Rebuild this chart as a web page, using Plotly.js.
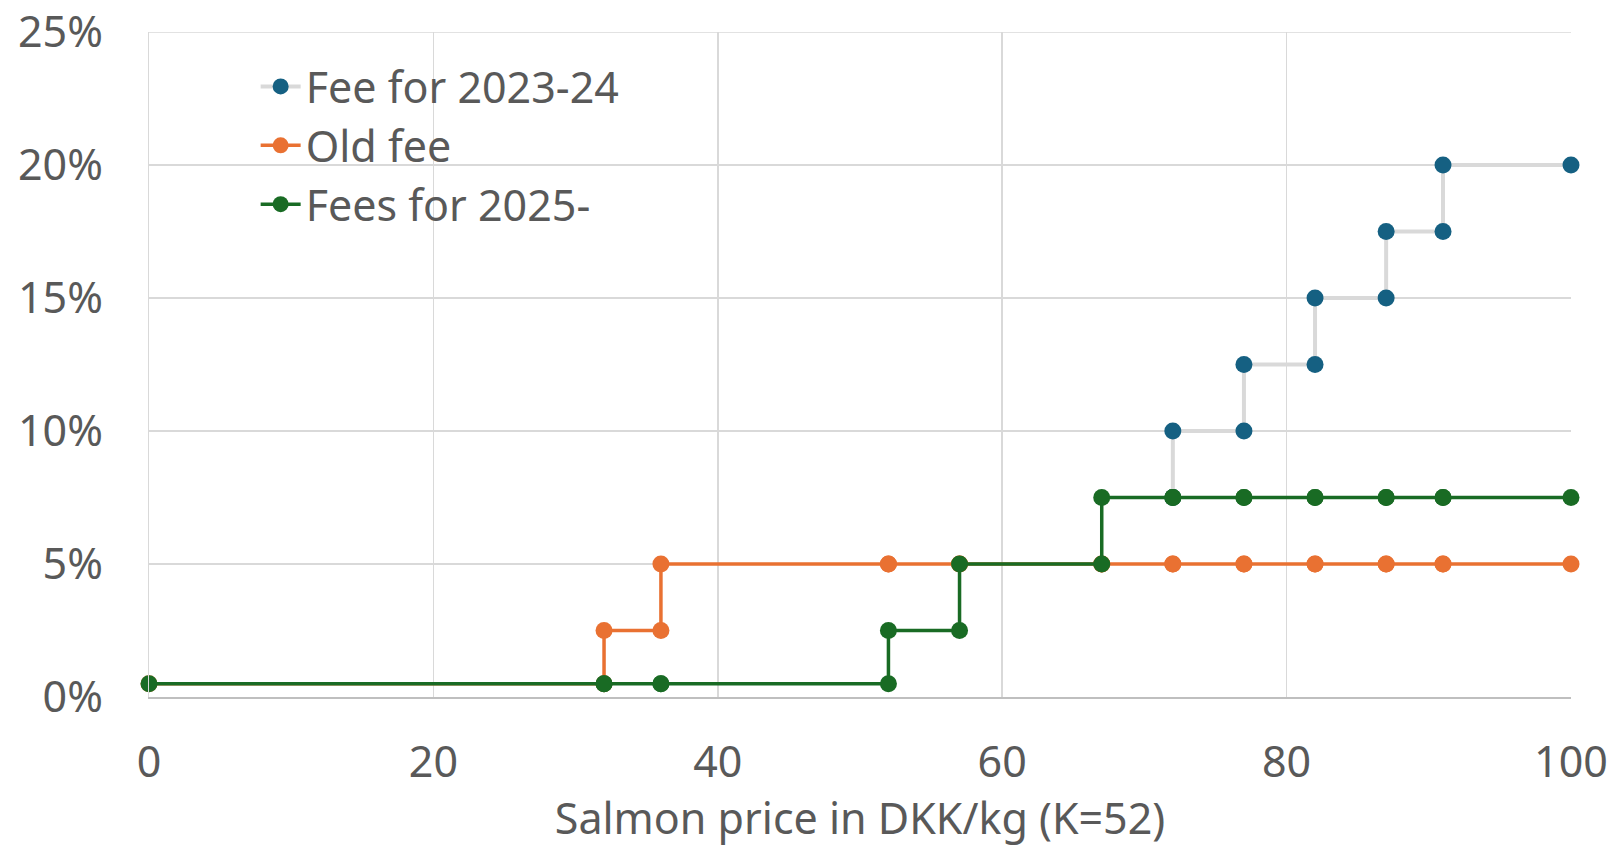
<!DOCTYPE html>
<html>
<head>
<meta charset="utf-8">
<script src="https://cdn.plot.ly/plotly-3.0.1.min.js"></script>
<style>html,body{margin:0;padding:0;background:#fff;}#chart{width:1615px;height:847px;}</style>
</head>
<body>
<div id="chart"></div>
<script>
// Salmon price (DKK/kg) breakpoints, each step appears twice
const price = [0,32,32,36,36,52,52,57,57,67,67,72,72,77,77,82,82,87,87,91,91,100];
// Fee rates in percent
const fee2023_24 = [null,null,null,null,null,null,null,null,null,null,null,7.5,10,10,12.5,12.5,15,15,17.5,17.5,20,20];
const oldFee     = [0.5,0.5,2.5,2.5,5,5,5,5,5,5,5,5,5,5,5,5,5,5,5,5,5,5];
const fee2025    = [0.5,0.5,0.5,0.5,0.5,0.5,2.5,2.5,5,5,7.5,7.5,7.5,7.5,7.5,7.5,7.5,7.5,7.5,7.5,7.5,7.5];
const seriesNames = ['Fee for 2023-24','Old fee','Fees for 2025-'];
const yTicks = [0,5,10,15,20,25];
const xTicks = [0,20,40,60,80,100];

const FONT = 'Noto Sans, Liberation Sans, sans-serif';
const TXT = '#595959';
const FS = 43;

const traces = [
  {x: price, y: fee2023_24, name: seriesNames[0], mode: 'lines+markers', connectgaps: false,
   line: {color: '#d9d9d9', width: 4}, marker: {color: '#156082', size: 17}, cliponaxis: false},
  {x: price, y: oldFee, name: seriesNames[1], mode: 'lines+markers',
   line: {color: '#E97132', width: 3.5}, marker: {color: '#E97132', size: 17}, cliponaxis: false},
  {x: price, y: fee2025, name: seriesNames[2], mode: 'lines+markers',
   line: {color: '#196B24', width: 3.5}, marker: {color: '#196B24', size: 17}, cliponaxis: false}
];

const layout = {
  width: 1615, height: 847,
  margin: {l: 149, r: 44, t: 32, b: 150},
  paper_bgcolor: '#fff', plot_bgcolor: '#fff',
  font: {family: FONT, color: TXT, size: FS},
  showlegend: true,
  legend: {x: 0.075, y: 0.97, xanchor: 'left', yanchor: 'top', bgcolor: 'rgba(0,0,0,0)',
           font: {size: FS, color: TXT}, itemwidth: 40},
  xaxis: {range: [0, 100], tickvals: xTicks, ticktext: xTicks.map(String),
          showgrid: true, gridcolor: '#d9d9d9', gridwidth: 1.5,
          showline: true, linecolor: '#bfbfbf', linewidth: 2, zeroline: false,
          ticks: '', ticklabelstandoff: 26, tickfont: {size: FS, color: TXT}, ticklabeloverflow: 'allow',
          title: {text: 'Salmon price in DKK/kg (K=52)', font: {size: FS, color: TXT}, standoff: 38}},
  yaxis: {range: [0, 25], tickvals: yTicks, ticktext: yTicks.map(v => v + '%'),
          showgrid: true, gridcolor: '#d9d9d9', gridwidth: 1.5,
          showline: true, linecolor: '#d9d9d9', linewidth: 1.5, zeroline: false,
          ticks: '', ticklabelstandoff: 36, tickfont: {size: FS, color: TXT}, ticklabeloverflow: 'allow'},
  shapes: [{type: 'line', xref: 'paper', yref: 'y', x0: 0, x1: 1, y0: 25, y1: 25,
            line: {color: '#d9d9d9', width: 1.5}, layer: 'below'}]
};

Plotly.newPlot('chart', traces, layout, {displayModeBar: false, staticPlot: true});
</script>
</body>
</html>
